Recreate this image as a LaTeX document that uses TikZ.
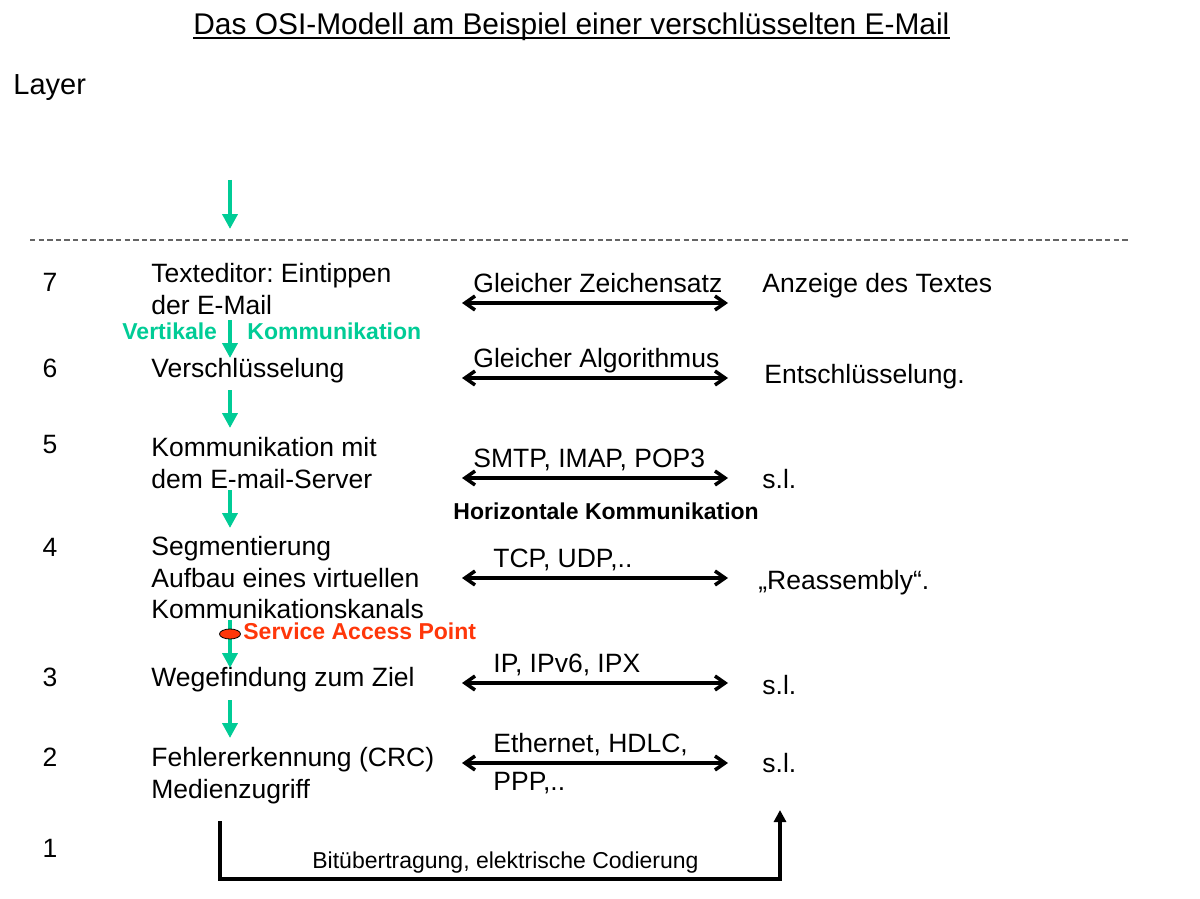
\documentclass[tikz,border=0pt]{standalone}
\usepackage{fontspec}
\setmainfont{Liberation Sans}
\usepackage{tikz}
\usetikzlibrary{arrows.meta}
\frenchspacing

\definecolor{osigreen}{RGB}{0,204,150}
\definecolor{sapred}{RGB}{255,55,10}
\definecolor{dashgray}{RGB}{100,100,100}

\tikzset{
    layernum/.style={inner sep=0pt, font=\fontsize{13.25}{15.75}\selectfont},
    layertext/.style={anchor=north west, inner sep=0pt, align=left, font=\fontsize{13.25}{15.75}\selectfont},
    plain/.style={anchor=base west, inner sep=0pt, font=\fontsize{13.25}{15.75}\selectfont},
    boldlabel/.style={anchor=base west, inner sep=0pt, font=\bfseries\fontsize{11.5}{13}\selectfont},
    vflow/.style={draw=osigreen, line width=2.25pt, -{Triangle[length=7.5pt,width=7.5pt]}},
    hflow/.style={line width=1.75pt, {Straight Barb[length=5pt,width=7pt]}-{Straight Barb[length=5pt,width=7pt]}}
}

\begin{document}
\begin{tikzpicture}[x=0.5pt, y=-0.5pt]
            \fill[white] (0,0) rectangle (1200,899);
            \useasboundingbox (0,0) rectangle (1200,899);
            % title and header
            \node[anchor=base west, inner sep=0pt, font=\fontsize{14.95}{17}\selectfont] (title) at (193,35) {Das OSI-Modell am Beispiel einer verschlüsselten E-Mail};
            \draw[line width=1pt] ([yshift=-1.5pt]title.base west) -- ([yshift=-1.5pt]title.base east);
            \node[anchor=base west, inner sep=0pt, font=\fontsize{14.5}{17}\selectfont] (layer) at (13,95) {Layer};
            \draw[dashgray, line width=1.1pt, dash pattern=on 2.7pt off 1.6pt] (30,240) -- (1130,240);
            % layer numbers
            \node[layernum] (n7) at (50,282) {7};
            \node[layernum] (n6) at (50,368) {6};
            \node[layernum] (n5) at (50,445) {5};
            \node[layernum] (n4) at (50,547) {4};
            \node[layernum] (n3) at (50,677) {3};
            \node[layernum] (n2) at (50,757) {2};
            \node[layernum] (n1) at (50,848) {1};
            % sender side
            \node[layertext] (t7) at (151,263) {Texteditor: Eintippen\\der E-Mail};
            \node[layertext] (t6) at (151,358) {Verschlüsselung};
            \node[layertext] (t5) at (151,437) {Kommunikation mit\\dem E-mail-Server};
            \node[layertext] (t4) at (151,536) {Segmentierung\\Aufbau eines virtuellen\\Kommunikationskanals};
            \node[layertext] (t3) at (151,667) {Wegefindung zum Ziel};
            \node[layertext] (t2) at (151,747) {Fehlererkennung (CRC)\\Medienzugriff};
            % protocols
            \node[plain] (p7) at (473,292.5) {Gleicher Zeichensatz};
            \node[plain] (p6) at (473,367.5) {Gleicher Algorithmus};
            \node[plain] (p5) at (473,467) {SMTP, IMAP, POP3};
            \node[plain] (p4) at (493,567) {TCP, UDP,..};
            \node[plain] (p3) at (493,672) {IP, IPv6, IPX};
            \node[plain] (p2) at (493,752) {Ethernet, HDLC,};
            \node[plain] (p2b) at (493,790) {PPP,..};
            % receiver side
            \node[plain] (r7) at (762,292.5) {Anzeige des Textes};
            \node[plain] (r6) at (764,383.5) {Entschlüsselung.};
            \node[plain] (r5) at (762,488) {s.l.};
            \node[plain] (r4) at (758,589) {„Reassembly“.};
            \node[plain] (r3) at (762,694) {s.l.};
            \node[plain] (r2) at (762,772) {s.l.};
            % labels
            \node[boldlabel, osigreen] (vert) at (122,339) {Vertikale};
            \node[boldlabel, osigreen] (kom) at (247,339) {Kommunikation};
            \node[boldlabel] (horiz) at (453,519) {Horizontale Kommunikation};
            \node[boldlabel, sapred] (saplbl) at (243,639) {Service Access Point};
            \node[anchor=base west, inner sep=0pt, font=\fontsize{11.5}{13}\selectfont] (phys) at (312,868) {Bitübertragung, elektrische Codierung};
            % vertical communication
            \coordinate (v0a) at (230,180); \coordinate (v0b) at (230,229);
            \coordinate (v7a) at (230,320); \coordinate (v7b) at (230,358);
            \coordinate (v6a) at (230,390); \coordinate (v6b) at (230,428);
            \coordinate (v5a) at (230,490); \coordinate (v5b) at (230,528);
            \coordinate (v4a) at (230,620); \coordinate (v4b) at (230,668);
            \coordinate (v3a) at (230,700); \coordinate (v3b) at (230,738);
            \draw[vflow] (v0a) -- (v0b);
            \draw[vflow] (v7a) -- (v7b);
            \draw[vflow] (v6a) -- (v6b);
            \draw[vflow] (v5a) -- (v5b);
            \draw[vflow] (v4a) -- (v4b);
            \draw[vflow] (v3a) -- (v3b);
            \filldraw[fill=sapred, draw=black, line width=0.4pt] (230,634) ellipse [x radius=10.5, y radius=5];
            % horizontal communication
            \coordinate (h7a) at (462,303); \coordinate (h7b) at (728,303);
            \coordinate (h6a) at (462,378); \coordinate (h6b) at (728,378);
            \coordinate (h5a) at (462,478); \coordinate (h5b) at (728,478);
            \coordinate (h4a) at (462,578); \coordinate (h4b) at (728,578);
            \coordinate (h3a) at (462,683); \coordinate (h3b) at (728,683);
            \coordinate (h2a) at (462,763); \coordinate (h2b) at (728,763);
            \draw[hflow] (h7a) -- (h7b);
            \draw[hflow] (h6a) -- (h6b);
            \draw[hflow] (h5a) -- (h5b);
            \draw[hflow] (h4a) -- (h4b);
            \draw[hflow] (h3a) -- (h3b);
            \draw[hflow] (h2a) -- (h2b);
            % physical layer
            \coordinate (b1) at (220,821);
            \coordinate (b2) at (780,810);
            \draw[line width=1.6pt, -{Triangle[length=6pt,width=6pt]}] (b1) -- (220,879) -| (b2);
\end{tikzpicture}
\end{document}
